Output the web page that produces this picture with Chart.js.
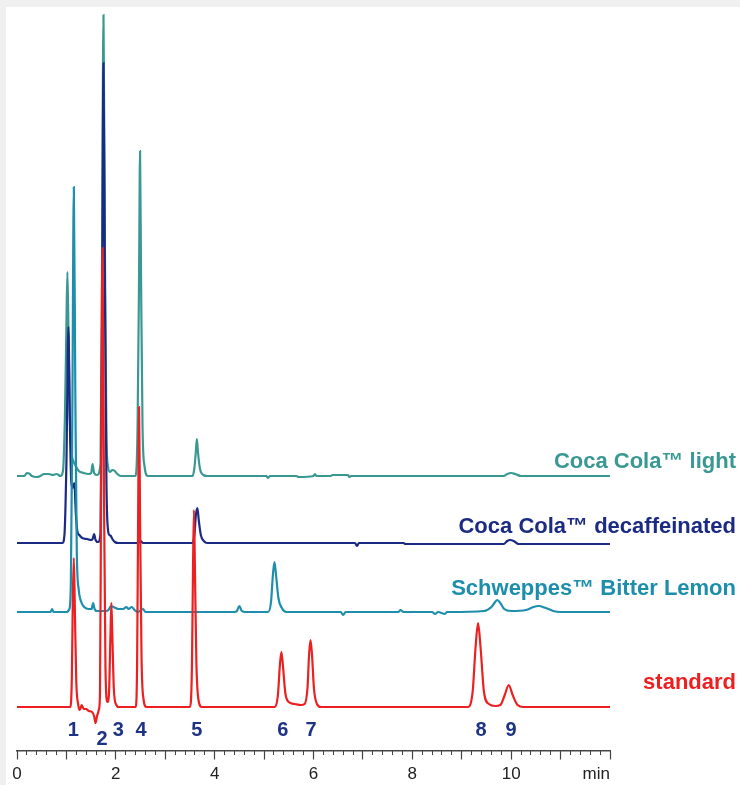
<!DOCTYPE html>
<html lang="en">
<head>
<meta charset="UTF-8">
<title>Chromatograms</title>
<script src="https://cdn.jsdelivr.net/npm/chart.js@4.4.1/dist/chart.umd.min.js"></script>
<style>
    html, body {
        margin: 0;
        padding: 0;
        background: #f0f0f0;
    }
    .frame {
        position: absolute;
        left: 6px;
        top: 7px;
        width: 734px;
        height: 778px;
        background: #fff;
    }
</style>
</head>
<body>
<div class="frame"><canvas id="chrom" width="734" height="778" style="width:734px;height:778px"></canvas></div>
<script>
// retention time (min) / detector signal
const stdTime = [0, 1.08, 1.11, 1.13, 1.15, 1.17, 1.20, 1.24, 1.27, 1.31, 1.35, 1.40, 1.45, 1.52, 1.56, 1.59, 1.62, 1.66,
    1.68, 1.70, 1.73, 1.76, 1.79, 1.83, 1.86, 1.89, 1.91, 1.93, 1.96, 2.01, 2.06,
    2.40, 2.43, 2.45, 2.47, 2.49, 2.52, 2.56, 2.62,
    3.50, 3.54, 3.56, 3.58, 3.60, 3.63, 3.67, 3.74,
    5.22, 5.28, 5.32, 5.35, 5.38, 5.43, 5.50, 5.62, 5.75, 5.82, 5.88, 5.91, 5.94, 5.97, 6.01, 6.07, 6.15,
    9.12, 9.22, 9.28, 9.33, 9.38, 9.45, 9.55, 9.68, 9.78, 9.87, 9.95, 10.03, 10.13, 10.25, 12];
const stdSignal = [0, 0, 30, 110, 149, 100, 25, 2, -3, 2, -2, -2, -4, -5, -9, -16, -9, -2,
    15, 200, 459, 220, 40, 5, 12, 70, 104, 70, 18, 2, 0,
    0, 40, 180, 300, 190, 50, 8, 0,
    0, 40, 130, 197, 140, 45, 8, 0,
    0, 12, 42, 55, 42, 14, 5, 3, 2, 3, 20, 52, 67, 52, 18, 3, 0,
    0, 15, 60, 84, 60, 15, 3, 1, 2, 12, 22, 12, 2, 0, 0];

const bitTime = [0, 0.68, 0.71, 0.74, 1.0, 1.06, 1.09, 1.12, 1.15, 1.18, 1.21, 1.25, 1.30, 1.36, 1.45, 1.51, 1.54, 1.57, 1.62,
    1.80, 1.85, 1.90, 1.95, 2.05, 2.15, 2.21, 2.26, 2.32, 2.38, 2.45, 2.55, 2.60,
    4.40, 4.45, 4.50, 4.55, 4.62, 5.08, 5.14, 5.18, 5.21, 5.24, 5.29, 5.36, 5.45,
    6.55, 6.60, 6.65, 7.72, 7.76, 7.82, 8.40, 8.46, 8.52, 8.66, 8.70, 8.75,
    9.45, 9.60, 9.66, 9.72, 9.78, 9.86, 10.0, 10.30, 10.45, 10.55, 10.70, 10.85, 11.0, 12];
const bitSignal = [0, 0, 3, 0, 0, 3, 30, 200, 425, 220, 60, 22, 10, 5, 3, 3, 9, 3, 1,
    1, 2, 6, 5, 3, 3, 5, 3, 5, 2, 0, 3, 0,
    0, 1, 6, 1, 0, 0, 10, 38, 50, 38, 14, 4, 0,
    0, -3, 0, 0, 2, 0, 0, -2, 0, -2, 0, 0,
    1, 5, 9, 12, 9, 3, 1, 2, 5, 6, 4, 1, 0, 0];

const decTime = [0, 0.92, 0.96, 1.00, 1.04, 1.07, 1.10, 1.13, 1.16, 1.19, 1.22, 1.26, 1.32, 1.42, 1.50, 1.53, 1.56, 1.59, 1.64,
    1.69, 1.72, 1.75, 1.78, 1.81, 1.84, 1.87, 1.90, 1.93, 1.98, 2.05, 2.45, 2.50, 2.55,
    3.55, 3.59, 3.62, 3.65, 3.68, 3.72, 3.78, 3.85,
    6.84, 6.88, 6.92, 7.82, 7.86, 9.85, 9.92, 9.98, 10.05, 10.15, 12];
const decSignal = [0, 0, 8, 80, 216, 120, 60, 55, 60, 30, 12, 8, 5, 4, 3, 4, 9, 3, 1,
    10, 200, 480, 250, 60, 14, 8, 7, 4, 1, 0, 0, 2, 0,
    0, 8, 28, 35, 22, 8, 2, 0,
    0, -3, 0, 0, -1, -1, 2, 3, 2, -1, -1];

const litTime = [0, 0.15, 0.20, 0.26, 0.30, 0.40, 0.47, 0.55, 0.65, 0.72, 0.80, 0.88,
    0.93, 0.97, 1.00, 1.02, 1.04, 1.07, 1.10, 1.14, 1.19, 1.25, 1.35, 1.45, 1.50, 1.53, 1.56, 1.62,
    1.69, 1.72, 1.75, 1.78, 1.81, 1.84, 1.88, 1.93, 1.98, 2.03, 2.10,
    2.40, 2.44, 2.47, 2.49, 2.51, 2.54, 2.58, 2.65,
    3.55, 3.59, 3.62, 3.64, 3.66, 3.70, 3.77, 3.85,
    5.05, 5.08, 5.12, 5.65, 5.70, 6.00, 6.03, 6.06, 6.35, 6.38, 6.70, 6.72, 6.76,
    9.85, 9.92, 10.0, 10.08, 10.2, 12];
const litSignal = [0, 0, 3, 2, 0, -1, 0, 2, 2, 1, 2, 0,
    5, 60, 150, 204, 150, 60, 25, 15, 10, 5, 3, 2, 3, 12, 3, 1,
    12, 200, 461, 220, 40, 10, 4, 6, 5, 2, 0,
    0, 50, 200, 325, 200, 50, 10, 0,
    0, 8, 25, 37, 25, 8, 1, 0,
    0, -2, 0, 0, -1, 0, 2, 0, 0, 1, 1, -1, 0,
    0, 2, 3, 2, 0, 0];

const traceNames = ['standard', 'Schweppes™ Bitter Lemon', 'Coca Cola™ decaffeinated', 'Coca Cola™ light'];
const traceOffsets = [0, 95, 164, 231];

const peakNames = ['1', '2', '3', '4', '5', '6', '7', '8', '9'];
const peakLabelTimes = [1.14, 1.72, 2.05, 2.51, 3.64, 5.38, 5.95, 9.39, 10.0];

const xTickLabels = [0, 2, 4, 6, 8, 10];

const colors = ['#ec2020', '#1d8eab', '#1b2a83', '#3a9893'];
const nameDrop = [18, 17, 10, 8];

function toPoints(times, values, offset) {
    return times.map(function (t, i) { return { x: t, y: values[i] + offset }; });
}

const series = [
    [stdTime, stdSignal],
    [bitTime, bitSignal],
    [decTime, decSignal],
    [litTime, litSignal]
];

const textPlugin = {
    id: 'chromText',
    afterDatasetsDraw(chart) {
        const ctx = chart.ctx;
        const x = chart.scales.x;
        const y = chart.scales.y;
        ctx.save();
        ctx.textBaseline = 'alphabetic';

        ctx.font = 'bold 22px "Liberation Sans", Arial, sans-serif';
        ctx.textAlign = 'right';
        traceNames.forEach(function (name, i) {
            ctx.fillStyle = colors[i];
            ctx.fillText(name, chart.width - 4, y.getPixelForValue(traceOffsets[i]) - nameDrop[i]);
        });

        // peak numbers under the standard trace
        ctx.font = 'bold 20px "Liberation Sans", Arial, sans-serif';
        ctx.textAlign = 'center';
        ctx.fillStyle = '#1d3384';
        peakNames.forEach(function (p, i) {
            const dy = p === '2' ? -38 : -29;
            ctx.fillText(p, x.getPixelForValue(peakLabelTimes[i]), y.getPixelForValue(dy));
        });

        ctx.font = '17px "Liberation Sans", Arial, sans-serif';
        ctx.fillStyle = '#222';
        ctx.fillText('min', x.getPixelForValue(11.72), y.getPixelForValue(-72));
        ctx.restore();
    }
};

new Chart(document.getElementById('chrom'), {
    type: 'line',
    data: {
        datasets: series.map(function (s, i) {
            return {
                label: traceNames[i],
                data: toPoints(s[0], s[1], traceOffsets[i]),
                borderColor: colors[i],
                backgroundColor: colors[i],
                borderWidth: 2.2,
                pointRadius: 0,
                cubicInterpolationMode: 'monotone',
                fill: false
            };
        })
    },
    options: {
        responsive: false,
        animation: false,
        layout: { padding: { left: 11, right: 130, top: 0, bottom: 0 } },
        plugins: {
            legend: { display: false },
            tooltip: { enabled: false }
        },
        scales: {
            x: {
                type: 'linear',
                min: 0,
                max: 12,
                position: { y: -44 },
                border: { display: true, color: '#444', width: 1.5 },
                grid: { drawOnChartArea: false, drawTicks: true, tickLength: 8, tickColor: '#444', tickWidth: 1.2 },
                ticks: {
                    stepSize: 1,
                    autoSkip: false,
                    maxRotation: 0,
                    padding: 5,
                    color: '#222',
                    font: { family: '"Liberation Sans", Arial, sans-serif', size: 17 },
                    callback: function (v) { return xTickLabels.indexOf(v) >= 0 ? String(v) : ''; }
                }
            },
            xMinor: {
                type: 'linear',
                axis: 'x',
                min: 0,
                max: 12,
                position: { y: -44 },
                border: { display: false },
                grid: { drawOnChartArea: false, drawTicks: true, tickLength: 4, tickColor: '#444', tickWidth: 1 },
                ticks: { stepSize: 0.2, display: false, autoSkip: false }
            },
            y: {
                min: -78,
                max: 700,
                display: false
            }
        }
    },
    plugins: [textPlugin]
});
</script>
</body>
</html>
